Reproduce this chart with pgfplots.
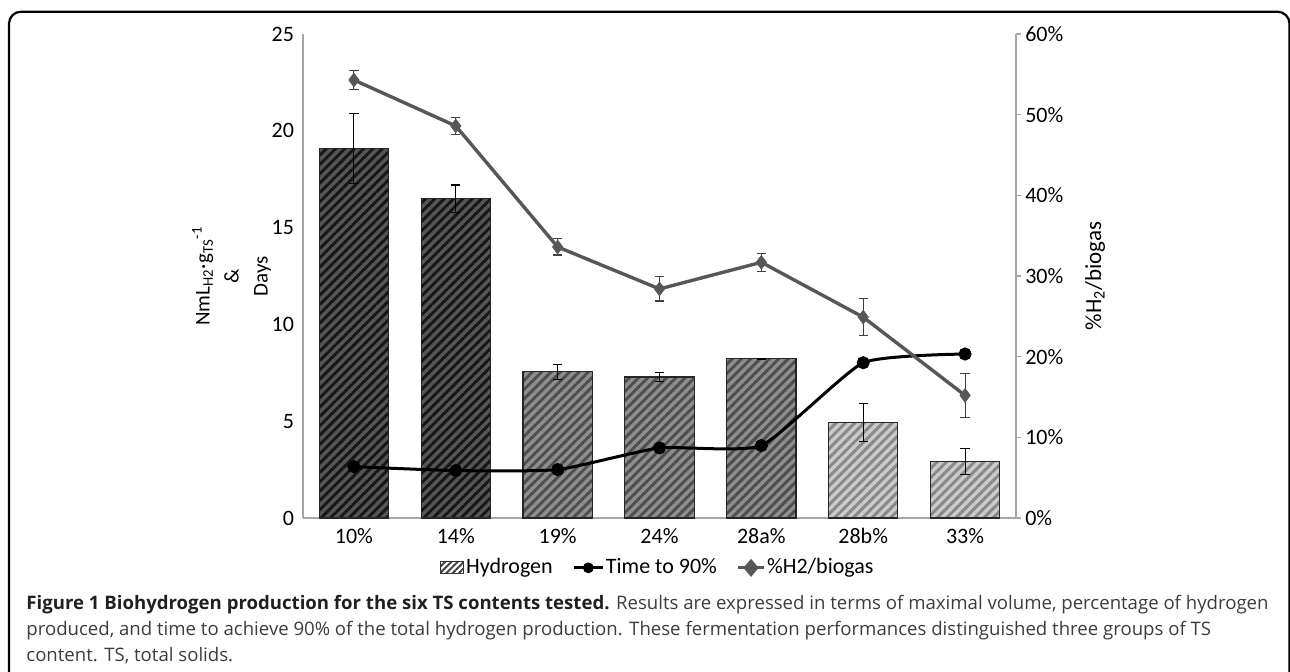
\documentclass[border=0pt]{standalone}
\usepackage{fontspec}
\setmainfont{Carlito}
\newfontfamily\capfont{Open Sans}
\usepackage{pgfplots}
\pgfplotsset{compat=1.18}
\usetikzlibrary{patterns.meta}

\definecolor{barDark}{HTML}{555555}
\definecolor{hatchDark}{HTML}{161616}
\definecolor{barMid}{HTML}{8E8E8E}
\definecolor{hatchMid}{HTML}{4E4E4E}
\definecolor{barLight}{HTML}{CBCBCB}
\definecolor{hatchLight}{HTML}{888888}
\definecolor{ratioGray}{HTML}{575757}
\definecolor{axisGray}{HTML}{A6A6A6}
\definecolor{capBold}{HTML}{231F20}
\definecolor{capText}{HTML}{3C3C3C}

\tikzset{
  hatched/.style 2 args={fill=#1, draw=black!85, line width=0.6pt,
    postaction={pattern={Lines[angle=45,distance=3.3pt,line width=1.45pt]}, pattern color=#2}},
}

% Hydrogen yield (NmL H2 / g TS) with standard deviations
\pgfplotstableread{
x   y     e
0   19.1  1.8
1   16.5  0.7
}\hydroHigh
\pgfplotstableread{
x   y     e
2   7.55  0.40
3   7.28  0.24
4   8.22  0.04
}\hydroMid
\pgfplotstableread{
x   y     e
5   4.94  0.98
6   2.92  0.68
}\hydroLow
% Days needed to reach 90% of the total production
\pgfplotstableread{
x   y
0   2.65
1   2.45
2   2.50
3   3.62
4   3.74
5   8.02
6   8.47
}\timeNinety
% Hydrogen share of the biogas (%)
\pgfplotstableread{
x   y     e
0   54.3  1.2
1   48.6  1.1
2   33.6  1.0
3   28.4  1.5
4   31.7  1.1
5   24.9  2.3
6   15.2  2.7
}\hydroRatio

\pgfplotsset{
  common/.style={
    scale only axis, width=356.5pt, height=242pt,
    at={(151.5pt,76.5pt)}, anchor=south west,
    xmin=-0.5, xmax=6.5,
    /pgf/number format/assume math mode=true,
    tick label style={font=\fontsize{11}{13}\selectfont, black},
    axis line style={draw=axisGray, line width=0.8pt},
  },
}

\begin{document}
\begin{tikzpicture}[x=0.5pt,y=0.5pt]
\path[use as bounding box] (0,0) rectangle (1290,671);
\draw[line width=1.1pt, rounded corners=6pt] (9,-60) rectangle (1289.5,659.3);

\begin{axis}[common,
  axis x line*=bottom, axis y line*=left,
  ymin=0, ymax=25, ytick={0,5,...,25},
  xtick={0,...,6},
  xticklabels={10\%,14\%,19\%,24\%,28a\%,28b\%,33\%},
  xtick style={draw=none}, ytick style={draw=none},
  yticklabel style={xshift=-1pt},
  xticklabel style={yshift=2.5pt},
  ylabel={NmL\textsubscript{H2}·g\textsubscript{TS}\textsuperscript{-1}\\[1.5pt]\&\\[1.5pt]Days},
  every axis y label/.style={at={(axis description cs:-0.1003,0.5)},
    rotate=90, anchor=center, align=center, font=\fontsize{10.5}{13}\selectfont},
  ybar, bar width=0.68,
  error bars/error bar style={black, line width=0.55pt},
  error bars/error mark options={black, line width=0.55pt, mark size=2.3pt, rotate=90},
]
\addplot[hatched={barDark}{hatchDark}, bar shift=0pt,
  error bars/.cd, y dir=both, y explicit]
  table[x=x, y=y, y error=e] {\hydroHigh};
\addplot[hatched={barMid}{hatchMid}, bar shift=0pt,
  error bars/.cd, y dir=both, y explicit]
  table[x=x, y=y, y error=e] {\hydroMid};
\addplot[hatched={barLight}{hatchLight}, bar shift=0pt,
  error bars/.cd, y dir=both, y explicit]
  table[x=x, y=y, y error=e] {\hydroLow};
\addplot[smooth, tension=0.3, black, line width=1.5pt, mark=*, mark size=2.5pt]
  table[x=x, y=y] {\timeNinety};
\end{axis}

\begin{axis}[common,
  axis x line=none, axis y line*=right,
  ymin=0, ymax=60, ytick={0,10,...,60},
  yticklabel={\pgfmathprintnumber{\tick}\%},
  ytick style={draw=axisGray, line width=0.8pt},
  major tick length=2.6pt, tick align=outside,
  yticklabel style={xshift=-1.5pt},
  ylabel={\%H\textsubscript{2}/biogas},
  every axis y label/.style={at={(axis description cs:1.1108,0.5)},
    rotate=90, anchor=center, font=\fontsize{11.5}{13}\selectfont},
  legend columns=3,
  legend style={draw=none, fill=none, at={(0.497,-0.103)}, anchor=center,
    font=\fontsize{11}{13}\selectfont, inner sep=0pt,
    /tikz/every even column/.append style={column sep=9pt},
    nodes={inner xsep=0.8pt}},
]
\addlegendimage{legend image code/.code={
  \draw[fill=white, draw=black!80, line width=0.6pt,
    postaction={pattern={Lines[angle=45,distance=2.2pt,line width=1pt]}, pattern color=black!75}]
    (0pt,-3pt) rectangle (11.5pt,3pt);}}
\addlegendentry{Hydrogen}
\addlegendimage{legend image code/.code={
  \draw[black, line width=1.5pt] (0pt,0pt) -- (14.5pt,0pt);
  \fill[black] (7.25pt,0pt) circle (2.5pt);}}
\addlegendentry{Time to 90\%}
\addplot[ratioGray, line width=1.7pt, mark=diamond*, mark size=3.4pt,
  mark options={fill=ratioGray, draw=ratioGray, line width=0.4pt},
  legend image code/.code={
    \draw[ratioGray, line width=1.5pt] (0pt,0pt) -- (13pt,0pt);
    \fill[ratioGray] (6.5pt,3.2pt) -- (9.2pt,0pt) -- (6.5pt,-3.2pt) -- (3.8pt,0pt) -- cycle;},
  error bars/.cd, y dir=both, y explicit,
  error bar style={black!75, line width=0.55pt},
  error mark options={black!75, line width=0.55pt, mark size=2.3pt, rotate=90}]
  table[x=x, y=y, y error=e] {\hydroRatio};
\addlegendentry{\%H2/biogas}
\end{axis}

\node[anchor=base west, inner sep=0pt, capText,
  font=\capfont\fontsize{9.3}{12}\selectfont] at (26,62)
  {{\bfseries\color{capBold}Figure 1 Biohydrogen production for the six TS contents tested.} Results are expressed in terms of maximal volume, percentage of hydrogen};
\node[anchor=base west, inner sep=0pt, capText,
  font=\capfont\fontsize{9.3}{12}\selectfont] at (26,36)
  {produced, and time to achieve 90\% of the total hydrogen production. These fermentation performances distinguished three groups of TS};
\node[anchor=base west, inner sep=0pt, capText,
  font=\capfont\fontsize{9.3}{12}\selectfont] at (26,10)
  {content. TS, total solids.};
\end{tikzpicture}
\end{document}
